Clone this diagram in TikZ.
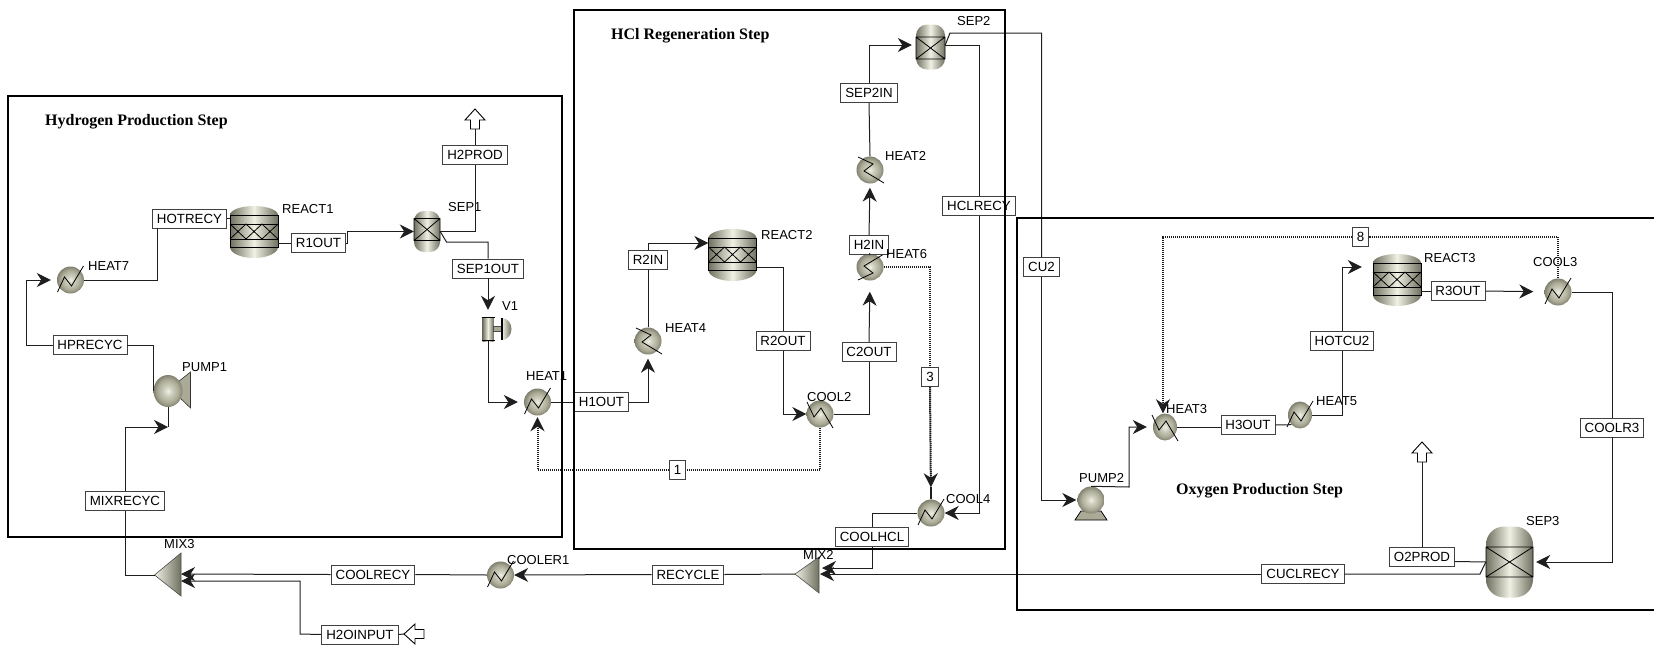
\documentclass[tikz,border=0pt]{standalone}
\usepackage{fontspec}
\setmainfont{Liberation Sans}
\newfontfamily\titlefont{Liberation Serif}
\usetikzlibrary{arrows.meta,shapes.geometric}
\definecolor{eqdark}{RGB}{112,112,96}
\definecolor{eqdeep}{RGB}{84,84,72}
\definecolor{eqlight}{RGB}{240,240,228}
\definecolor{eqpale}{RGB}{208,208,192}
\definecolor{eqmid}{RGB}{170,170,150}
\definecolor{linedark}{RGB}{30,30,30}
\pgfdeclareradialshading{eqball}{\pgfpoint{0bp}{0bp}}{color(0bp)=(eqlight); color(7bp)=(eqpale); color(18bp)=(eqmid); color(28bp)=(eqdark); color(36bp)=(eqdeep)}

\begin{document}
\begin{tikzpicture}[x=1pt,y=-1pt,>={Stealth[length=14pt,width=14pt,inset=4.5pt]},
    stream/.style={draw=linedark,line width=1pt},
    flow/.style={stream,->,shorten >=#1},
    flow/.default=0pt,
    heatline/.style={draw=linedark,line width=2pt,dash pattern=on 1.3pt off 0.7pt},
    heatflow/.style={heatline,->,shorten >=#1},
    heatflow/.default=0pt,
    tag/.style={draw=black!75,line width=0.9pt,fill=white,inner xsep=4.5pt,inner ysep=0pt,minimum height=19pt,font=\fontsize{13.3}{15}\selectfont},
    blocklab/.style={anchor=west,inner sep=0pt,font=\fontsize{13}{15}\selectfont},
    steplab/.style={anchor=west,inner sep=0pt,font=\titlefont\bfseries\fontsize{16}{18}\selectfont},
    ballshade/.style={shading=eqball},
    hxball/.style={ellipse,ballshade,inner sep=0pt,minimum height=27pt},
    vessel/.style={rectangle,inner sep=0pt,left color=eqdark,right color=eqdark,middle color=eqlight},
    vesselbody/.style={left color=eqdark,right color=eqdark,middle color=eqlight},
    stepframe/.style={draw=black,line width=2.6pt},
    ventbox/.style={draw=black,line width=0.9pt,fill=white,line join=miter}]
  \useasboundingbox (0,0) rectangle (1654,645);

  % heat exchangers: name, x, y, width, zigzag turn
  \foreach \n/\x/\y/\w/\zig in {heat7/70.5/280/27/{},heat1/537.5/402/27/{},cooler1/500.5/575/27/{},cool4/931/513/27/{},
      cool3/1558/292/27/{},heat5/1300/415/24/{},cool2/820/414/27/{yscale=-1},heat3/1165/427/24/{yscale=-1},
      heat6/870/267/27/{rotate=90,yscale=-1},heat4/648/341/27/{rotate=-90},heat2/870/170/27/{rotate=-90}} {
    \node[hxball,minimum width=\w pt] (\n) at (\x,\y) {};
    \draw[black,line width=0.8pt,shift={(\n)},style/.expanded=\zig] (-13,12) -- (-6,-3) -- (1,6) -- (13,-14);
  }

  % reactors
  \foreach \n/\x/\y in {react1/254/232,react2/732.5/255,react3/1397/280} {
    \node[inner sep=0pt,minimum width=48pt,minimum height=52pt] (\n) at (\x,\y) {};
    \begin{scope}[shift={(\n)}]
      \shade[vesselbody] (-24,-17) arc[start angle=180,end angle=0,x radius=24pt,y radius=9pt] -- (24,15)
        arc[start angle=0,end angle=-180,x radius=24pt,y radius=11pt] -- cycle;
      \draw[black,line width=0.9pt] (-24,-17) rectangle (24,15);
      \draw[black,line width=0.9pt] (-24,-8) -- (24,-8) (-24,7) -- (24,7);
      \foreach \i in {-24,-8,8} {
        \draw[black,line width=0.8pt] (\i,-8) -- ({\i+16},7) (\i,7) -- ({\i+16},-8);
      }
    \end{scope}
  }

  % separators: name, x, y, width, height, corner, top and bottom of the bed
  \foreach \n/\x/\y/\w/\h/\r/\t/\b in {sep1/427/231.5/26/41/10/-13/9,sep2/930.5/47/29/45/11/-10/12,sep3/1509.5/562/47/71/18/-15/15} {
    \node[vessel,minimum width=\w pt,minimum height=\h pt,rounded corners=\r pt] (\n) at (\x,\y) {};
    \draw[black,line width=0.8pt,shift={(\n)}] ({-\w/2},\t) rectangle ({\w/2},\b)
      ({-\w/2},\t) -- ({\w/2},\b) ({-\w/2},\b) -- ({\w/2},\t);
  }

  % pumps
  \fill[eqmid,draw=black!80,line width=0.6pt] (178,382) -- (190.5,372) -- (190.5,408) -- (178,396) -- cycle;
  \node[ellipse,ballshade,inner sep=0pt,minimum width=29pt,minimum height=32pt] (pump1) at (168,391) {};
  \fill[eqmid,draw=black,line width=0.8pt] (1081,511) -- (1101,511) -- (1107,520) -- (1075,520) -- cycle;
  \node[hxball,minimum width=27pt] (pump2) at (1091,500) {};

  % valve
  \node[vessel,minimum width=11pt,minimum height=24pt] (v1) at (488,329) {};
  \draw[black,line width=1.8pt] (481.5,317.5) -- (494.5,317.5) (481.5,340.5) -- (494.5,340.5);
  \fill[eqmid,draw=black!70,line width=0.5pt] (493,326.5) rectangle (502,331.5);
  \shade[left color=eqlight,right color=eqdark] (502,318) arc[start angle=90,end angle=-90,x radius=9.5pt,y radius=11pt] -- cycle;
  \draw[black,line width=1.8pt] (502,318) -- (502,340);

  % mixers
  \coordinate (mix3out) at (154.5,575);
  \coordinate (mix3a) at (181,574);
  \coordinate (mix3b) at (181,581);
  \draw[left color=eqlight,right color=eqdark,draw=black!70,line width=0.6pt] (mix3out) -- (181,553) -- (181,596) -- cycle;
  \coordinate (mix2out) at (795,574);
  \coordinate (mix2a) at (820,574);
  \coordinate (mix2b) at (822,568);
  \draw[left color=eqlight,right color=eqdark,draw=black!70,line width=0.6pt] (mix2out) -- (819,557) -- (819,593) -- cycle;

  % product and feed arrows
  \foreach \x/\y/\a in {475/109/0,1422/442/0,404/634/90} {
    \draw[ventbox,shift={(\x,\y)},rotate=\a] (0,0) -- (10,11) -- (4.5,11) -- (4.5,20) -- (-4.5,20) -- (-4.5,11) -- (-10,11) -- cycle;
  }
  \coordinate (h2vent) at (475,129);
  \coordinate (o2vent) at (1422,462);
  \coordinate (h2ofeed) at (404,634);
  \coordinate (pump1in) at (168,427);

  % stream tags
  \foreach \n/\x/\y/\t in {hotrecy/189.5/218.5/HOTRECY,r1out/318.5/243/R1OUT,h2prod/475/155/H2PROD,sep1out/488/268.5/SEP1OUT,
      hprecyc/90/345/HPRECYC,mixrecyc/125/501/MIXRECYC,coolrecy/373/574.5/COOLRECY,h2oinput/360/634.5/H2OINPUT,
      h1out/601.5/402/H1OUT,r2in/648/260/R2IN,r2out/783/341/R2OUT,c2out/869/352/C2OUT,h2in/869/245/H2IN,
      sep2in/869/93/SEP2IN,hclrecy/979/206/HCLRECY,cu2/1041.5/267/CU2,coolhcl/872/537/COOLHCL,recycle/688/574.5/RECYCLE,
      h3out/1248/425/H3OUT,hotcu2/1342/341/HOTCU2,r3out/1458/291/R3OUT,coolr3/1612/427.5/COOLR3,o2prod/1422/557/O2PROD,
      cuclrecy/1303/574/CUCLRECY,stream1/677.5/469.5/1,stream3/930/377/3,stream8/1360.5/237/8} {
    \node[tag] (\n) at (\x,\y) {\t};
  }

  % block labels
  \foreach \t/\x/\y in {HEAT7/88/266,REACT1/282/209,SEP1/448/207,V1/502/306,PUMP1/182/367,HEAT1/526/376,MIX3/164/544,
      COOLER1/507/560,HEAT4/665/328,REACT2/761/235,COOL2/807/397,HEAT6/886/254,HEAT2/885/156,SEP2/957/21,COOL4/946/499,
      MIX2/803/555,REACT3/1424/258,COOL3/1533/262,HEAT3/1166/409,HEAT5/1316/401,PUMP2/1079/478,SEP3/1526/521} {
    \node[blocklab] (lab\t) at (\x,\y) {\t};
  }

  % hydrogen production step
  \draw[stream] (hprecyc.east) -| (pump1.west);
  \draw[flow=6pt] (hprecyc.west) -| (26,280) -- (heat7);
  \draw[stream] (heat7.east) -| ([xshift=-32.5pt]hotrecy.south);
  \draw[stream] (hotrecy.east) -- (react1.west |- hotrecy.east);
  \draw[stream] (react1.east |- r1out.west) -- (r1out.west);
  \draw[flow] (r1out.east) -- ++(2,0) |- (sep1.west);
  \draw[stream] (sep1.east) -| (h2prod.south);
  \draw[stream] (h2prod.north) -- (h2vent);
  \draw[stream] (sep1.east) -- (446.5,242) -| (sep1out.north);
  \draw[flow=7pt] (sep1out.south) -- (v1.north);
  \draw[flow=6pt] (v1.south) |- (heat1);
  \draw[stream] (heat1.east) -- (h1out.west);
  \draw[flow] (mixrecyc.north) |- (pump1in);
  \draw[stream] (pump1) -- (pump1in);
  \draw[stream] (mix3out) -| (mixrecyc.south);

  % recycle line
  \draw[flow] (coolrecy.west) -- (mix3a);
  \draw[flow] (h2oinput.west) -- (300,634) |- (mix3b);
  \draw[stream] (h2oinput.east) -- (h2ofeed);
  \draw[stream] (cooler1.west) -- (coolrecy.east);
  \draw[flow] (recycle.west) -- (cooler1.east);
  \draw[stream] (mix2out) -- (recycle.east);
  \draw[flow] (cuclrecy.west) -- (mix2a);
  \draw[flow] (coolhcl.south) |- (mix2b);

  % hcl regeneration step
  \draw[flow=4pt] (h1out.east) -| (heat4.south);
  \draw[stream] (heat4.north) -- (r2in.south);
  \draw[flow] (r2in.north) |- ([yshift=12pt]react2.west);
  \draw[stream] ([yshift=-12pt]react2.east) -| (r2out.north);
  \draw[flow] (r2out.south) |- (cool2.west);
  \draw[stream] (cool2.east) -| (c2out.south);
  \draw[flow=11pt] (c2out.north) -- (heat6.south);
  \draw[stream] (heat6.north) -- (h2in.south);
  \draw[flow=4pt] (h2in.north) -- (heat2.south);
  \draw[stream] (heat2.north) -- (sep2in.south);
  \draw[flow=4pt] (sep2in.north) |- ([yshift=2pt]sep2.west);
  \draw[stream] ([yshift=2pt]sep2.east) -- (950,33) -| (cu2.north);
  \draw[stream] ([yshift=2pt]sep2.east) -| (hclrecy.north);
  \draw[flow] (hclrecy.south) |- (cool4.east);
  \draw[stream] (cool4.west) -| (coolhcl.north);

  % oxygen production step
  \draw[flow=1pt] (cu2.south) |- (pump2.west);
  \draw[stream] (pump2.west) -- (pump2);
  \draw[flow=6pt] (pump2.north) -- (1129,487) |- (heat3);
  \draw[stream] (heat3.east) -- (h3out.west |- heat3.east);
  \draw[stream] (h3out.east) -- (heat5.south west);
  \draw[stream] (heat5.east) -| (hotcu2.south);
  \draw[flow=11pt] (hotcu2.north) |- ([yshift=13pt]react3.west);
  \draw[stream] ([yshift=-11pt]react3.east) -- (r3out.west);
  \draw[flow=11pt] (r3out.east) -- (cool3);
  \draw[stream] (cool3.east) -| (coolr3.north);
  \draw[flow=3pt] (coolr3.south) |- (sep3.east);
  \draw[stream] ([yshift=-4.5pt]o2prod.east) -- (sep3.west);
  \draw[stream] (o2prod.north) -- (o2vent);
  \draw[stream] (sep3.west) -- (1480,574) -- (cuclrecy.east);

  % heat streams
  \draw[heatline] (cool2.south) |- (stream1.east);
  \draw[heatflow=1.5pt] (stream1.west) -| (heat1.south);
  \draw[heatline] (heat6.east) -| (stream3.north);
  \draw[heatflow=12pt] (stream3.south) -- (cool4.north);
  \draw[heatline] ([yshift=12pt]cool4.north) -- (cool4.north);
  \draw[heatline] (cool3.north) |- (stream8.east);
  \draw[heatflow] (stream8.west) -| ([xshift=-2pt]heat3.north);

  % step frames
  \draw[stepframe] (8,96) rectangle (562,537);
  \draw[stepframe] (574,10) rectangle (1005,549);
  \draw[stepframe] (1654,218) -- (1017,218) -- (1017,610) -- (1654,610);
  \node[steplab] (hydrogenstep) at (45,122) {Hydrogen Production Step};
  \node[steplab] (hclstep) at (611,36) {HCl Regeneration Step};
  \node[steplab] (oxygenstep) at (1176,491) {Oxygen Production Step};
\end{tikzpicture}
\end{document}
